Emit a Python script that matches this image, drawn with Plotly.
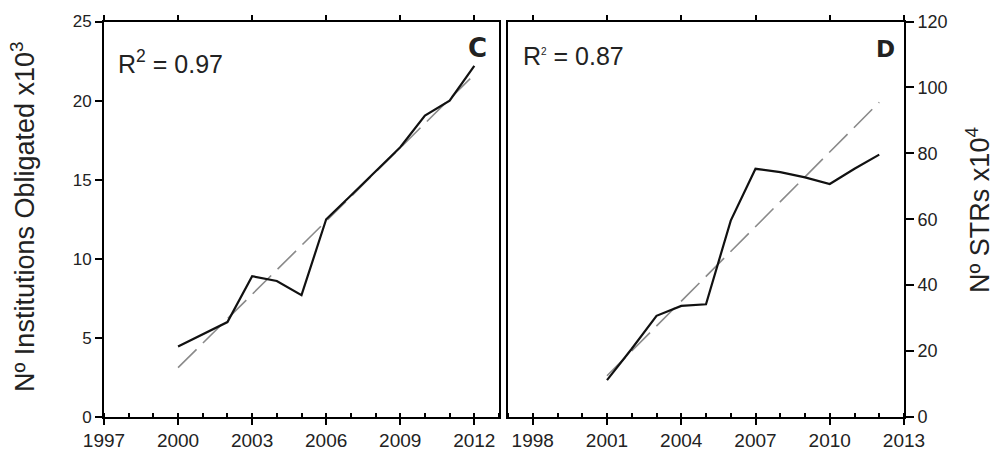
import plotly.graph_objects as go

# Panel C: obliged institutions (x10^3)
years_c = [2000, 2001, 2002, 2003, 2004, 2005, 2006, 2007, 2008, 2009, 2010, 2011, 2012]
institutions = [4.45, 5.2, 6.0, 8.9, 8.6, 7.7, 12.5, 14.0, 15.5, 17.05, 19.05, 20.0, 22.2]
trend_years_c = [2000, 2012]
trend_c = [3.12, 21.65]

# Panel D: suspicious transaction reports (x10^4)
years_d = [2001, 2002, 2003, 2004, 2005, 2006, 2007, 2008, 2009, 2010, 2011, 2012]
strs = [11.2, 20.7, 30.7, 33.7, 34.2, 59.6, 75.3, 74.3, 72.7, 70.7, 75.3, 79.6]
trend_years_d = [2001, 2012]
trend_d = [12.5, 95.5]

W, H = 995, 452
FONT = "Liberation Sans, Arial, sans-serif"

def px_x(p):
    return p / W

def px_y(p):
    return 1 - p / H

dom_y = [px_y(417), px_y(21.5)]
dom_x1 = [px_x(104), px_x(499)]
dom_x2 = [px_x(508), px_x(904)]

fig = go.Figure()

dash = "26px,9px"
fig.add_trace(go.Scatter(x=trend_years_c, y=trend_c, mode="lines",
                         line=dict(color="#8a8a8a", width=1.6, dash=dash),
                         xaxis="x", yaxis="y", hoverinfo="skip"))
fig.add_trace(go.Scatter(x=years_c, y=institutions, mode="lines",
                         line=dict(color="#111111", width=2.2),
                         xaxis="x", yaxis="y"))
fig.add_trace(go.Scatter(x=trend_years_d, y=trend_d, mode="lines",
                         line=dict(color="#8a8a8a", width=1.6, dash=dash),
                         xaxis="x2", yaxis="y2", hoverinfo="skip"))
fig.add_trace(go.Scatter(x=years_d, y=strs, mode="lines",
                         line=dict(color="#111111", width=2.2),
                         xaxis="x2", yaxis="y2"))
# invisible traces so the top tick-mark axes are laid out
fig.add_trace(go.Scatter(x=[1997], y=[0], mode="markers", marker=dict(opacity=0),
                         xaxis="x3", yaxis="y", hoverinfo="skip"))
fig.add_trace(go.Scatter(x=[1997], y=[0], mode="markers", marker=dict(opacity=0),
                         xaxis="x4", yaxis="y2", hoverinfo="skip"))

tick_font_x = dict(family=FONT, size=19, color="#222")
common_x = dict(range=[1997, 2013], showgrid=False, zeroline=False, automargin=False,
                showline=True, linecolor="black", linewidth=2, mirror=True,
                ticks="outside", ticklen=6, tickwidth=1.5, tickcolor="black",
                dtick=3, tickfont=tick_font_x, ticklabelstandoff=-1,
                minor=dict(ticks="inside", ticklen=4, tickwidth=1.5,
                           tickcolor="black", dtick=1, showgrid=False))
top_x = dict(range=[1997, 2013], showgrid=False, zeroline=False, showline=False,
             automargin=False, side="top", ticks="outside", ticklen=6, tickwidth=1.5,
             tickcolor="black", dtick=3, showticklabels=False)

fig.update_layout(
    width=W, height=H,
    margin=dict(l=0, r=0, t=0, b=0),
    paper_bgcolor="white", plot_bgcolor="white",
    showlegend=False,
    xaxis=dict(domain=dom_x1, anchor="y", tick0=1997, **common_x),
    xaxis2=dict(domain=dom_x2, anchor="y2", tick0=1998, **common_x),
    xaxis3=dict(overlaying="x", anchor="y", tick0=1997, **top_x),
    xaxis4=dict(overlaying="x2", anchor="y2", tick0=1998, **top_x),
    yaxis=dict(domain=dom_y, anchor="x", range=[0, 25], dtick=5, automargin=False,
               showgrid=False, zeroline=False, showline=True, linecolor="black",
               linewidth=2, mirror=True, ticks="outside", ticklen=7,
               tickwidth=1.5, tickcolor="black",
               tickfont=dict(family=FONT, size=17, color="#222")),
    yaxis2=dict(domain=dom_y, anchor="x2", side="right", range=[0, 120], dtick=20,
                automargin=False,
                showgrid=False, zeroline=False, showline=True, linecolor="black",
                linewidth=2, mirror=True, ticks="outside", ticklen=8,
                tickwidth=1.5, tickcolor="black",
                tickfont=dict(family=FONT, size=18, color="#222")),
)

ann_font = dict(family=FONT, size=27, color="#222")
fig.add_annotation(x=px_x(23), y=px_y(217), xref="paper", yref="paper",
                   text="Nº Institutions Obligated x10<sup>3</sup>", textangle=-90,
                   showarrow=False, font=ann_font, xanchor="center", yanchor="middle")
fig.add_annotation(x=px_x(978), y=px_y(210), xref="paper", yref="paper",
                   text="Nº STRs x10<sup>4</sup>", textangle=-90,
                   showarrow=False, font=ann_font, xanchor="center", yanchor="middle")
fig.add_annotation(x=px_x(116), y=px_y(62), xref="paper", yref="paper",
                   text="R<sup>2</sup> = 0.97", showarrow=False,
                   font=dict(family=FONT, size=25, color="#222"),
                   xanchor="left", yanchor="middle")
fig.add_annotation(x=px_x(521), y=px_y(56), xref="paper", yref="paper",
                   text="R<sup><span style='font-size:10px'>2</span></sup> = 0.87",
                   showarrow=False, font=dict(family=FONT, size=25, color="#222"),
                   xanchor="left", yanchor="middle")
fig.add_annotation(x=px_x(489), y=px_y(48), xref="paper", yref="paper",
                   text="<b>C</b>", showarrow=False,
                   font=dict(family="DejaVu Sans", size=26, color="#222"),
                   xanchor="right", yanchor="middle")
fig.add_annotation(x=px_x(897), y=px_y(49), xref="paper", yref="paper",
                   text="<b>D</b>", showarrow=False,
                   font=dict(family="DejaVu Sans", size=23, color="#222"),
                   xanchor="right", yanchor="middle")

fig.write_html("out.html")
